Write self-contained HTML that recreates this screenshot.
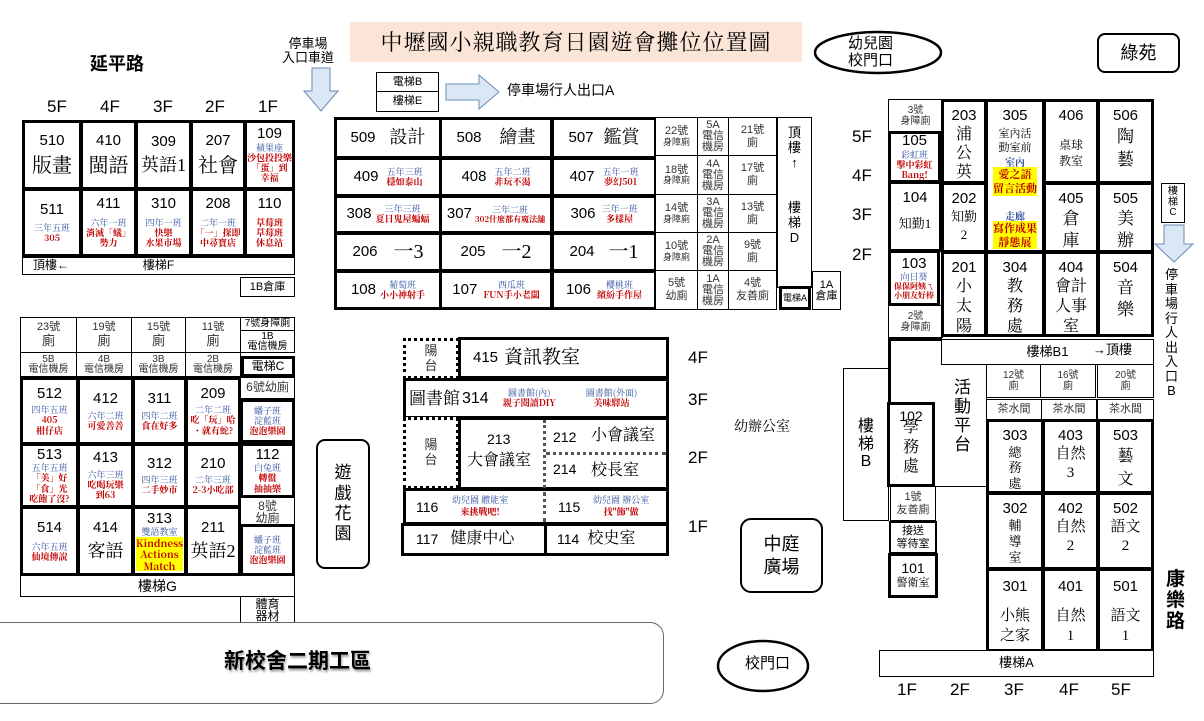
<!DOCTYPE html>
<html><head><meta charset="utf-8"><style>
body{margin:0;width:1204px;height:721px;background:#fff;position:relative;overflow:hidden;font-family:"Liberation Sans","Noto Sans CJK TC",sans-serif;}
.b{position:absolute;box-sizing:border-box;border:1px solid #000;display:flex;flex-direction:column;align-items:center;justify-content:center;text-align:center;line-height:1.15;background:#fff;color:#000;overflow:hidden}
.k{border-width:3px}
.n{font-size:15px;font-family:"Liberation Sans",sans-serif;line-height:1.1}
.s{font-family:"Liberation Serif","Noto Serif CJK TC",serif}
.bl{color:#2f4f9f;font-size:9px;font-family:"Noto Serif CJK TC",serif;line-height:1.1;white-space:nowrap}
.rd{color:#c00000;font-size:9px;font-weight:bold;font-family:"Noto Serif CJK TC",serif;line-height:1.15;white-space:nowrap}
.y{background:#ff0}
.t{position:absolute;white-space:nowrap;line-height:1.1}
.sm{font-size:11px;color:#333}
.d{border-style:dotted}
</style></head><body>

<div class="t" style="left:90px;top:55px;font-size:18px;font-weight:bold">延平路</div>
<div class="t" style="left:47px;top:98px;font-size:17px">5F</div>
<div class="t" style="left:100px;top:98px;font-size:17px">4F</div>
<div class="t" style="left:153px;top:98px;font-size:17px">3F</div>
<div class="t" style="left:205px;top:98px;font-size:17px">2F</div>
<div class="t" style="left:258px;top:98px;font-size:17px">1F</div>

<div class="t" style="left:282px;top:37px;font-size:13px;text-align:center">停車場<br>入口車道</div>
<svg style="position:absolute;left:303px;top:67px" width="36" height="46"><polygon points="9,1 27,1 27,24 35,24 18,44 1,24 9,24" fill="#dae8f5" stroke="#6b8bb0" stroke-width="1"/></svg>

<div class="b" style="left:350px;top:22px;width:452px;height:40px;background:#fbe5d6;border:none;font-size:22px;font-family:'Noto Serif CJK TC',serif;letter-spacing:1px">中壢國小親職教育日園遊會攤位位置圖</div>

<svg style="position:absolute;left:812px;top:30px" width="132" height="45"><ellipse cx="66" cy="22.5" rx="63" ry="20.5" fill="none" stroke="#000" stroke-width="2.5"/></svg>
<div class="t" style="left:848px;top:36px;font-size:15px;text-align:center">幼兒園<br>校門口</div>
<div class="b" style="left:1097px;top:33px;width:83px;height:40px;border-width:2px;border-radius:8px;font-size:18px">綠苑</div>

<!-- top-left grid -->
<div class="b k n" style="left:22px;top:120px;width:60px;height:70px">510<span class="s" style="font-size:20px;margin-top:5px">版畫</span></div>
<div class="b k n" style="left:80px;top:120px;width:57px;height:70px">410<span class="s" style="font-size:20px;margin-top:5px">閩語</span></div>
<div class="b k n" style="left:135px;top:120px;width:57px;height:70px">309<span class="s" style="font-size:18px;margin-top:5px">英語1</span></div>
<div class="b k n" style="left:190px;top:120px;width:56px;height:70px">207<span class="s" style="font-size:20px;margin-top:5px">社會</span></div>
<div class="b k n" style="left:244px;top:120px;width:51px;height:70px">109<span class="bl">蘋果座</span><span class="rd">沙包投投樂<br>「蛋」到<br>幸福</span></div>
<div class="b k n" style="left:22px;top:188px;width:60px;height:69px">511<span class="bl" style="margin-top:5px">三年五班</span><span class="rd">305</span></div>
<div class="b k n" style="left:80px;top:188px;width:57px;height:69px">411<span class="bl" style="margin-top:5px">六年一班</span><span class="rd">消滅「蟻」<br>勢力</span></div>
<div class="b k n" style="left:135px;top:188px;width:57px;height:69px">310<span class="bl" style="margin-top:5px">四年一班</span><span class="rd">快樂<br>水果市場</span></div>
<div class="b k n" style="left:190px;top:188px;width:56px;height:69px">208<span class="bl" style="margin-top:5px">二年一班</span><span class="rd">「一」探即<br>中尋寶店</span></div>
<div class="b k n" style="left:244px;top:188px;width:51px;height:69px">110<span class="rd" style="margin-top:5px">草莓班<br>草莓班<br>休息站</span></div>
<div class="b" style="left:22px;top:257px;width:273px;height:18px;font-size:12px">樓梯F</div>
<div class="t" style="left:33px;top:259px;font-size:12px">頂樓←</div>
<div class="b" style="left:240px;top:277px;width:55px;height:20px;font-size:11px">1B倉庫</div>

<!-- bottom-left grid -->
<div class="b sm" style="left:20px;top:317px;width:57px;height:36px">23號<br><span style="font-size:13px">廁</span></div>
<div class="b sm" style="left:76px;top:317px;width:56px;height:36px">19號<br><span style="font-size:13px">廁</span></div>
<div class="b sm" style="left:131px;top:317px;width:55px;height:36px">15號<br><span style="font-size:13px">廁</span></div>
<div class="b sm" style="left:185px;top:317px;width:56px;height:36px">11號<br><span style="font-size:13px">廁</span></div>
<div class="b" style="left:240px;top:317px;width:55px;height:14px;font-size:10px">7號身障廁</div>
<div class="b" style="left:240px;top:330px;width:55px;height:23px;font-size:10px;line-height:1">1B<br>電信機房</div>
<div class="b sm" style="left:20px;top:352px;width:57px;height:25px;font-size:10px;line-height:1">5B<br>電信機房</div>
<div class="b sm" style="left:76px;top:352px;width:56px;height:25px;font-size:10px;line-height:1">4B<br>電信機房</div>
<div class="b sm" style="left:131px;top:352px;width:55px;height:25px;font-size:10px;line-height:1">3B<br>電信機房</div>
<div class="b sm" style="left:185px;top:352px;width:56px;height:25px;font-size:10px;line-height:1">2B<br>電信機房</div>
<div class="b k" style="left:241px;top:356px;width:54px;height:21px;font-size:12px">電梯C</div>

<div class="b k n" style="left:20px;top:377px;width:59px;height:68px">512<span class="bl" style="margin-top:3px">四年五班</span><span class="rd">405<br>柑仔店</span></div>
<div class="b k n" style="left:77px;top:377px;width:57px;height:68px">412<span class="bl" style="margin-top:3px">六年二班</span><span class="rd">可愛善善</span></div>
<div class="b k n" style="left:132px;top:377px;width:55px;height:68px">311<span class="bl" style="margin-top:3px">四年二班</span><span class="rd">食在好多</span></div>
<div class="b k n" style="left:185px;top:377px;width:56px;height:68px">209<span class="bl" style="margin-top:3px">二年二班</span><span class="rd">吃「玩」哈<br>・就有蛇?</span></div>
<div class="b sm" style="left:240px;top:377px;width:55px;height:22px;font-size:12px">6號幼廁</div>
<div class="b k" style="left:240px;top:399px;width:55px;height:44px"><span class="bl">蟠子班<br>淀藍班</span><span class="rd">泡泡樂園</span></div>

<div class="b k n" style="left:20px;top:443px;width:59px;height:65px">513<span class="bl">五年五班</span><span class="rd">「美」好<br>「食」光<br>吃飽了沒?</span></div>
<div class="b k n" style="left:77px;top:443px;width:57px;height:65px">413<span class="bl" style="margin-top:3px">六年三班</span><span class="rd">吃喝玩樂<br>到63</span></div>
<div class="b k n" style="left:132px;top:443px;width:55px;height:65px">312<span class="bl" style="margin-top:3px">四年三班</span><span class="rd">二手妙市</span></div>
<div class="b k n" style="left:185px;top:443px;width:56px;height:65px">210<span class="bl" style="margin-top:3px">二年三班</span><span class="rd">2-3小吃部</span></div>
<div class="b k n" style="left:240px;top:443px;width:55px;height:55px">112<span class="bl">白兔班</span><span class="rd">轉盤<br>抽抽樂</span></div>
<div class="b sm" style="left:240px;top:497px;width:55px;height:29px;font-size:12px;line-height:1">8號<br>幼廁</div>

<div class="b k n" style="left:20px;top:506px;width:59px;height:70px">514<span class="bl" style="margin-top:5px">六年五班</span><span class="rd">仙境傳說</span></div>
<div class="b k n" style="left:77px;top:506px;width:57px;height:70px">414<span class="s" style="font-size:18px;margin-top:6px">客語</span></div>
<div class="b k n" style="left:132px;top:506px;width:55px;height:70px">313<span class="bl">雙語教室</span><span class="rd y" style="font-size:10px">Kindness<br>Actions<br>Match</span></div>
<div class="b k n" style="left:185px;top:506px;width:56px;height:70px">211<span class="s" style="font-size:18px;margin-top:6px">英語2</span></div>
<div class="b k" style="left:240px;top:524px;width:55px;height:52px"><span class="bl">蟠子班<br>淀藍班</span><span class="rd">泡泡樂園</span></div>
<div class="b" style="left:20px;top:575px;width:275px;height:22px;font-size:14px">樓梯G</div>
<div class="b" style="left:240px;top:596px;width:55px;height:27px;font-size:12px;line-height:1">體育<br>器材</div>

<div style="position:absolute;left:-10px;top:622px;width:674px;height:82px;border:1px solid #666;border-radius:0 14px 14px 0;box-sizing:border-box"></div>
<div class="t" style="left:224px;top:650px;font-size:21px;font-weight:bold;text-shadow:1px 2px 2px #999">新校舍二期工區</div>

<!-- center top -->
<div class="b" style="left:376px;top:72px;width:63px;height:20px;font-size:11px">電梯B</div>
<div class="b" style="left:376px;top:91px;width:63px;height:21px;font-size:11px">樓梯E</div>
<svg style="position:absolute;left:445px;top:74px" width="56" height="36"><polygon points="1,10 34,10 34,1 54,18 34,35 34,26 1,26" fill="#dae8f5" stroke="#6b8bb0"/></svg>
<div class="t" style="left:507px;top:83px;font-size:14px">停車場行人出口A</div>

<div class="b k n" style="left:334px;top:117px;width:108px;height:42px;flex-direction:row">509<span class="s" style="font-size:18px;margin-left:14px">設計</span></div>
<div class="b k n" style="left:439px;top:117px;width:114px;height:42px;flex-direction:row">508<span class="s" style="font-size:18px;margin-left:18px">繪畫</span></div>
<div class="b k n" style="left:551px;top:117px;width:106px;height:42px;flex-direction:row">507<span class="s" style="font-size:18px;margin-left:10px">鑑賞</span></div>

<div class="b k n" style="left:334px;top:157px;width:108px;height:40px;flex-direction:row">409<span style="margin-left:8px;display:flex;flex-direction:column"><span class="bl">五年三班</span><span class="rd">穩如泰山</span></span></div>
<div class="b k n" style="left:439px;top:157px;width:114px;height:40px;flex-direction:row">408<span style="margin-left:8px;display:flex;flex-direction:column"><span class="bl">五年二班</span><span class="rd">非玩不渴</span></span></div>
<div class="b k n" style="left:551px;top:157px;width:106px;height:40px;flex-direction:row">407<span style="margin-left:8px;display:flex;flex-direction:column"><span class="bl">五年一班</span><span class="rd">夢幻501</span></span></div>

<div class="b k n" style="left:334px;top:195px;width:108px;height:39px;flex-direction:row">308<span style="margin-left:4px;display:flex;flex-direction:column"><span class="bl">三年三班</span><span class="rd">夏日鬼屋蝙蝠</span></span></div>
<div class="b k n" style="left:439px;top:195px;width:114px;height:39px;flex-direction:row">307<span style="margin-left:3px;display:flex;flex-direction:column"><span class="bl">三年二班</span><span class="rd" style="font-size:8px">302什麼都有魔法舖</span></span></div>
<div class="b k n" style="left:551px;top:195px;width:106px;height:39px;flex-direction:row">306<span style="margin-left:6px;display:flex;flex-direction:column"><span class="bl">三年一班</span><span class="rd">多樣屋</span></span></div>

<div class="b k n" style="left:334px;top:232px;width:108px;height:40px;flex-direction:row">206<span class="s" style="font-size:20px;margin-left:16px">一3</span></div>
<div class="b k n" style="left:439px;top:232px;width:114px;height:40px;flex-direction:row">205<span class="s" style="font-size:20px;margin-left:16px">一2</span></div>
<div class="b k n" style="left:551px;top:232px;width:106px;height:40px;flex-direction:row">204<span class="s" style="font-size:20px;margin-left:14px">一1</span></div>

<div class="b k n" style="left:334px;top:270px;width:108px;height:40px;flex-direction:row">108<span style="margin-left:4px;display:flex;flex-direction:column"><span class="bl">葡萄班</span><span class="rd">小小神射手</span></span></div>
<div class="b k n" style="left:439px;top:270px;width:114px;height:40px;flex-direction:row">107<span style="margin-left:6px;display:flex;flex-direction:column"><span class="bl">西瓜班</span><span class="rd">FUN手小老闆</span></span></div>
<div class="b k n" style="left:551px;top:270px;width:106px;height:40px;flex-direction:row">106<span style="margin-left:6px;display:flex;flex-direction:column"><span class="bl">櫻桃班</span><span class="rd">繽紛手作屋</span></span></div>

<div class="b sm" style="left:655px;top:117px;width:43px;height:39px;font-size:11px;line-height:1.05">22號<br><span style="font-size:9px">身障廁</span></div>
<div class="b sm" style="left:697px;top:117px;width:32px;height:39px;font-size:11px;line-height:1">5A<br>電信<br>機房</div>
<div class="b sm" style="left:728px;top:117px;width:49px;height:39px;font-size:11px">21號<br>廁</div>
<div class="b sm" style="left:655px;top:155px;width:43px;height:40px;font-size:11px;line-height:1.05">18號<br><span style="font-size:9px">身障廁</span></div>
<div class="b sm" style="left:697px;top:155px;width:32px;height:40px;font-size:11px;line-height:1">4A<br>電信<br>機房</div>
<div class="b sm" style="left:728px;top:155px;width:49px;height:40px;font-size:11px">17號<br>廁</div>
<div class="b sm" style="left:655px;top:194px;width:43px;height:39px;font-size:11px;line-height:1.05">14號<br><span style="font-size:9px">身障廁</span></div>
<div class="b sm" style="left:697px;top:194px;width:32px;height:39px;font-size:11px;line-height:1">3A<br>電信<br>機房</div>
<div class="b sm" style="left:728px;top:194px;width:49px;height:39px;font-size:11px">13號<br>廁</div>
<div class="b sm" style="left:655px;top:232px;width:43px;height:39px;font-size:11px;line-height:1.05">10號<br><span style="font-size:9px">身障廁</span></div>
<div class="b sm" style="left:697px;top:232px;width:32px;height:39px;font-size:11px;line-height:1">2A<br>電信<br>機房</div>
<div class="b sm" style="left:728px;top:232px;width:49px;height:39px;font-size:11px">9號<br>廁</div>
<div class="b sm" style="left:655px;top:270px;width:43px;height:40px;font-size:11px">5號<br>幼廁</div>
<div class="b sm" style="left:697px;top:270px;width:32px;height:40px;font-size:11px;line-height:1">1A<br>電信<br>機房</div>
<div class="b sm" style="left:728px;top:270px;width:49px;height:40px;font-size:11px">4號<br>友善廁</div>
<div class="b" style="left:777px;top:117px;width:35px;height:171px;font-size:13px;justify-content:flex-start;padding-top:8px">頂<br>樓<br>↑<br><br><br>樓<br>梯<br>D</div>
<div class="b k" style="left:779px;top:286px;width:32px;height:24px;font-size:9px">電梯A</div>
<div class="b" style="left:812px;top:271px;width:29px;height:39px;font-size:11px;line-height:1">1A<br>倉庫</div>

<!-- center lower -->
<div class="b d" style="left:403px;top:338px;width:56px;height:41px;border-width:3px;font-size:13px;color:#333">陽<br>台</div>
<div class="b k" style="left:458px;top:337px;width:211px;height:42px;flex-direction:row;justify-content:flex-start;padding-left:12px"><span class="n">415</span><span class="s" style="font-size:19px;margin-left:6px">資訊教室</span></div>
<div class="b k" style="left:403px;top:378px;width:266px;height:41px;flex-direction:row;justify-content:flex-start;padding-left:3px"><span class="s" style="font-size:17px">圖書館</span><span class="n" style="font-size:16px;margin-left:2px">314</span><span style="margin-left:14px;display:flex;flex-direction:column"><span class="bl">圖書館(內)</span><span class="rd">親子閱讀DIY</span></span><span style="margin-left:30px;display:flex;flex-direction:column"><span class="bl">圖書館(外面)</span><span class="rd">美味驛站</span></span></div>
<div class="b d" style="left:403px;top:417px;width:56px;height:72px;border-width:3px;font-size:13px;color:#333">陽<br>台</div>
<div class="b k" style="left:458px;top:417px;width:211px;height:73px"></div>
<div class="t n" style="left:487px;top:432px;font-size:14px">213</div>
<div class="t s" style="left:467px;top:452px;font-size:16px">大會議室</div>
<div style="position:absolute;left:543px;top:420px;height:68px;border-left:3px dotted #555"></div>
<div style="position:absolute;left:546px;top:452px;width:120px;border-top:3px dotted #555"></div>
<div class="t n" style="left:553px;top:430px;font-size:14px">212</div>
<div class="t s" style="left:591px;top:427px;font-size:16px">小會議室</div>
<div class="t n" style="left:553px;top:462px;font-size:14px">214</div>
<div class="t s" style="left:591px;top:462px;font-size:16px">校長室</div>
<div class="b k" style="left:403px;top:488px;width:266px;height:37px"></div>
<div style="position:absolute;left:543px;top:492px;height:30px;border-left:3px dotted #555"></div>
<div class="t n" style="left:416px;top:500px;font-size:14px">116</div>
<div class="t" style="left:452px;top:495px;text-align:center;font-size:9px;line-height:1.3"><span class="bl">幼兒園 體能室</span><br><span class="rd">來挑戰吧!</span></div>
<div class="t n" style="left:558px;top:500px;font-size:14px">115</div>
<div class="t" style="left:593px;top:495px;text-align:center;font-size:9px;line-height:1.3"><span class="bl">幼兒園 辦公室</span><br><span class="rd">找"飾"做</span></div>
<div class="b k" style="left:401px;top:523px;width:146px;height:33px;flex-direction:row;justify-content:flex-start;padding-left:12px"><span class="n" style="font-size:14px">117</span><span class="s" style="font-size:16px;margin-left:12px">健康中心</span></div>
<div class="b k" style="left:544px;top:523px;width:125px;height:33px;flex-direction:row;justify-content:flex-start;padding-left:10px"><span class="n" style="font-size:14px">114</span><span class="s" style="font-size:16px;margin-left:8px">校史室</span></div>
<div class="t" style="left:688px;top:349px;font-size:17px">4F</div>
<div class="t" style="left:688px;top:391px;font-size:17px">3F</div>
<div class="t" style="left:688px;top:449px;font-size:17px">2F</div>
<div class="t" style="left:688px;top:518px;font-size:17px">1F</div>
<div class="t s" style="left:734px;top:420px;font-size:14px">幼辦公室</div>

<div class="b" style="left:316px;top:439px;width:54px;height:130px;border-width:2px;border-radius:9px;font-size:17px;line-height:1.2">遊<br>戲<br>花<br>園</div>
<div class="b" style="left:740px;top:518px;width:83px;height:75px;border-width:2.5px;border-radius:11px;font-size:18px;line-height:1.25">中庭<br>廣場</div>
<svg style="position:absolute;left:715px;top:637px" width="96" height="58"><ellipse cx="48" cy="29" rx="45" ry="25" fill="none" stroke="#000" stroke-width="2.5"/></svg>
<div class="t" style="left:745px;top:656px;font-size:15px">校門口</div>

<!-- right block -->
<div class="t" style="left:852px;top:128px;font-size:17px">5F</div>
<div class="t" style="left:852px;top:167px;font-size:17px">4F</div>
<div class="t" style="left:852px;top:206px;font-size:17px">3F</div>
<div class="t" style="left:852px;top:246px;font-size:17px">2F</div>

<div class="b sm" style="left:888px;top:99px;width:55px;height:34px;font-size:10px;line-height:1.1">3號<br>身障廁</div>
<div class="b k n" style="left:888px;top:131px;width:53px;height:52px">105<span class="bl">彩虹班</span><span class="rd">擊中彩虹<br>Bang!</span></div>
<div class="b k n" style="left:888px;top:181px;width:54px;height:71px;justify-content:flex-start;padding-top:6px">104<span class="s" style="font-size:13px;margin-top:10px">知勤1</span></div>
<div class="b k n" style="left:888px;top:250px;width:52px;height:56px">103<span class="bl">向日葵</span><span class="rd" style="font-size:8px">保保阿姨ㄟ<br>小朋友好棒</span></div>
<div class="b sm" style="left:888px;top:305px;width:55px;height:33px;font-size:10px;line-height:1.1">2號<br>身障廁</div>

<div class="b k n" style="left:941px;top:99px;width:46px;height:85px;justify-content:flex-start;padding-top:6px">203<span class="s" style="font-size:16px;line-height:1.2">浦<br>公<br>英</span></div>
<div class="b k n" style="left:941px;top:182px;width:46px;height:71px;justify-content:flex-start;padding-top:6px">202<span class="s" style="font-size:13px;line-height:1.4">知勤<br>2</span></div>
<div class="b k n" style="left:941px;top:251px;width:46px;height:86px;justify-content:flex-start;padding-top:6px">201<span class="s" style="font-size:16px;line-height:1.25">小<br>太<br>陽</span></div>

<div class="b k n" style="left:985px;top:99px;width:60px;height:154px;justify-content:flex-start;padding-top:6px">305<span class="s" style="font-size:11px;line-height:1.35;margin-top:2px">室內活<br>動室前</span><span class="bl" style="font-size:10px;font-weight:bold">室內</span><span class="rd y" style="font-size:11px;line-height:1.3">愛之語<br>留言活動</span><span class="bl" style="font-size:10px;font-weight:bold;margin-top:14px">走廊</span><span class="rd y" style="font-size:11px;line-height:1.3">寫作成果<br>靜態展</span></div>
<div class="b k n" style="left:985px;top:251px;width:60px;height:86px;justify-content:flex-start;padding-top:6px">304<span class="s" style="font-size:16px;line-height:1.25">教<br>務<br>處</span></div>

<div class="b k n" style="left:1043px;top:99px;width:56px;height:85px;justify-content:flex-start;padding-top:6px">406<span class="s" style="font-size:12px;line-height:1.4;margin-top:12px">桌球<br>教室</span></div>
<div class="b k n" style="left:1043px;top:182px;width:56px;height:71px;justify-content:flex-start;padding-top:6px">405<span class="s" style="font-size:17px;line-height:1.3">倉<br>庫</span></div>
<div class="b k n" style="left:1043px;top:251px;width:56px;height:86px;justify-content:flex-start;padding-top:6px">404<span class="s" style="font-size:16px;line-height:1.25">會計<br>人事<br>室</span></div>

<div class="b k n" style="left:1097px;top:99px;width:57px;height:85px;justify-content:flex-start;padding-top:6px">506<span class="s" style="font-size:17px;line-height:1.4">陶<br>藝</span></div>
<div class="b k n" style="left:1097px;top:182px;width:57px;height:71px;justify-content:flex-start;padding-top:6px">505<span class="s" style="font-size:17px;line-height:1.3">美<br>辦</span></div>
<div class="b k n" style="left:1097px;top:251px;width:57px;height:86px;justify-content:flex-start;padding-top:6px">504<span class="s" style="font-size:17px;line-height:1.3">音<br>樂</span></div>

<div class="b" style="left:1161px;top:183px;width:24px;height:40px;font-size:10px;line-height:1.05">樓<br>梯<br>C</div>
<svg style="position:absolute;left:1153px;top:224px" width="42" height="40"><polygon points="11,1 31,1 31,20 40,20 21,38 2,20 11,20" fill="#dae8f5" stroke="#6b8bb0"/></svg>
<div class="t" style="left:1165px;top:268px;font-size:13px;line-height:1.12;text-align:center">停<br>車<br>場<br>行<br>人<br>出<br>入<br>口<br>B</div>

<!-- right lower -->
<div style="position:absolute;left:888px;top:338px;width:54px;height:148px;border-left:3px solid #000;border-top:3px solid #000;box-sizing:border-box"></div>
<div class="b" style="left:941px;top:339px;width:213px;height:26px;font-size:13px">樓梯B1</div>
<div class="t" style="left:1093px;top:343px;font-size:13px">→頂樓</div>
<div style="position:absolute;left:888px;top:364px;width:99px;height:123px;border-bottom:1px solid #000;border-right:1px solid #000;box-sizing:border-box"></div>
<div class="t" style="left:954px;top:378px;font-size:17px;line-height:1.12">活<br>動<br>平<br>台</div>
<div class="b" style="left:843px;top:368px;width:46px;height:153px;font-size:16px;line-height:1.1;background:transparent">樓<br>梯<br>B</div>
<div class="b k" style="left:887px;top:402px;width:48px;height:85px;justify-content:flex-start;padding-top:4px"><span class="n" style="font-size:14px">102</span><span class="s" style="font-size:16px;line-height:1.2;margin-top:-6px">學<br>務<br>處</span></div>
<div class="b sm" style="left:890px;top:486px;width:46px;height:35px;font-size:11px;line-height:1.1">1號<br>友善廁</div>
<div class="b" style="left:889px;top:521px;width:48px;height:33px;border-width:2px;font-size:11px;line-height:1.1">接送<br>等待室</div>
<div class="b k" style="left:888px;top:553px;width:50px;height:45px"><span class="n" style="font-size:14px">101</span><span class="s" style="font-size:11px">警衛室</span></div>

<div class="b sm" style="left:986px;top:364px;width:55px;height:34px;font-size:10px;line-height:1.1">12號<br>廁</div>
<div class="b sm" style="left:1040px;top:364px;width:56px;height:34px;font-size:10px;line-height:1.1">16號<br>廁</div>
<div class="b sm" style="left:1097px;top:364px;width:57px;height:34px;font-size:10px;line-height:1.1">20號<br>廁</div>
<div class="b sm" style="left:986px;top:399px;width:56px;height:21px;font-size:11px">茶水間</div>
<div class="b sm" style="left:1041px;top:399px;width:56px;height:21px;font-size:11px">茶水間</div>
<div class="b sm" style="left:1097px;top:399px;width:57px;height:21px;font-size:11px">茶水間</div>

<div class="b k n" style="left:986px;top:419px;width:58px;height:75px;justify-content:flex-start;padding-top:6px">303<span class="s" style="font-size:13px;line-height:1.2">總<br>務<br>處</span></div>
<div class="b k n" style="left:1042px;top:419px;width:57px;height:75px;justify-content:flex-start;padding-top:6px">403<span class="s" style="font-size:15px;line-height:1.3">自然<br>3</span></div>
<div class="b k n" style="left:1097px;top:419px;width:57px;height:75px;justify-content:flex-start;padding-top:6px">503<span class="s" style="font-size:16px;line-height:1.45">藝<br>文</span></div>
<div class="b k n" style="left:986px;top:492px;width:58px;height:78px;justify-content:flex-start;padding-top:6px">302<span class="s" style="font-size:13px;line-height:1.25">輔<br>導<br>室</span></div>
<div class="b k n" style="left:1042px;top:492px;width:57px;height:78px;justify-content:flex-start;padding-top:6px">402<span class="s" style="font-size:15px;line-height:1.3">自然<br>2</span></div>
<div class="b k n" style="left:1097px;top:492px;width:57px;height:78px;justify-content:flex-start;padding-top:6px">502<span class="s" style="font-size:15px;line-height:1.3">語文<br>2</span></div>
<div class="b k n" style="left:986px;top:568px;width:58px;height:84px;justify-content:flex-start;padding-top:8px">301<span class="s" style="font-size:15px;line-height:1.35;margin-top:10px">小熊<br>之家</span></div>
<div class="b k n" style="left:1042px;top:568px;width:57px;height:84px;justify-content:flex-start;padding-top:8px">401<span class="s" style="font-size:15px;line-height:1.35;margin-top:10px">自然<br>1</span></div>
<div class="b k n" style="left:1097px;top:568px;width:57px;height:84px;justify-content:flex-start;padding-top:8px">501<span class="s" style="font-size:15px;line-height:1.35;margin-top:10px">語文<br>1</span></div>
<div class="b" style="left:879px;top:650px;width:275px;height:27px;font-size:13px">樓梯A</div>
<div class="t" style="left:1166px;top:570px;font-size:19px;font-weight:bold;line-height:1.1">康<br>樂<br>路</div>
<div class="t" style="left:897px;top:681px;font-size:17px">1F</div>
<div class="t" style="left:950px;top:681px;font-size:17px">2F</div>
<div class="t" style="left:1004px;top:681px;font-size:17px">3F</div>
<div class="t" style="left:1059px;top:681px;font-size:17px">4F</div>
<div class="t" style="left:1111px;top:681px;font-size:17px">5F</div>
</body></html>
